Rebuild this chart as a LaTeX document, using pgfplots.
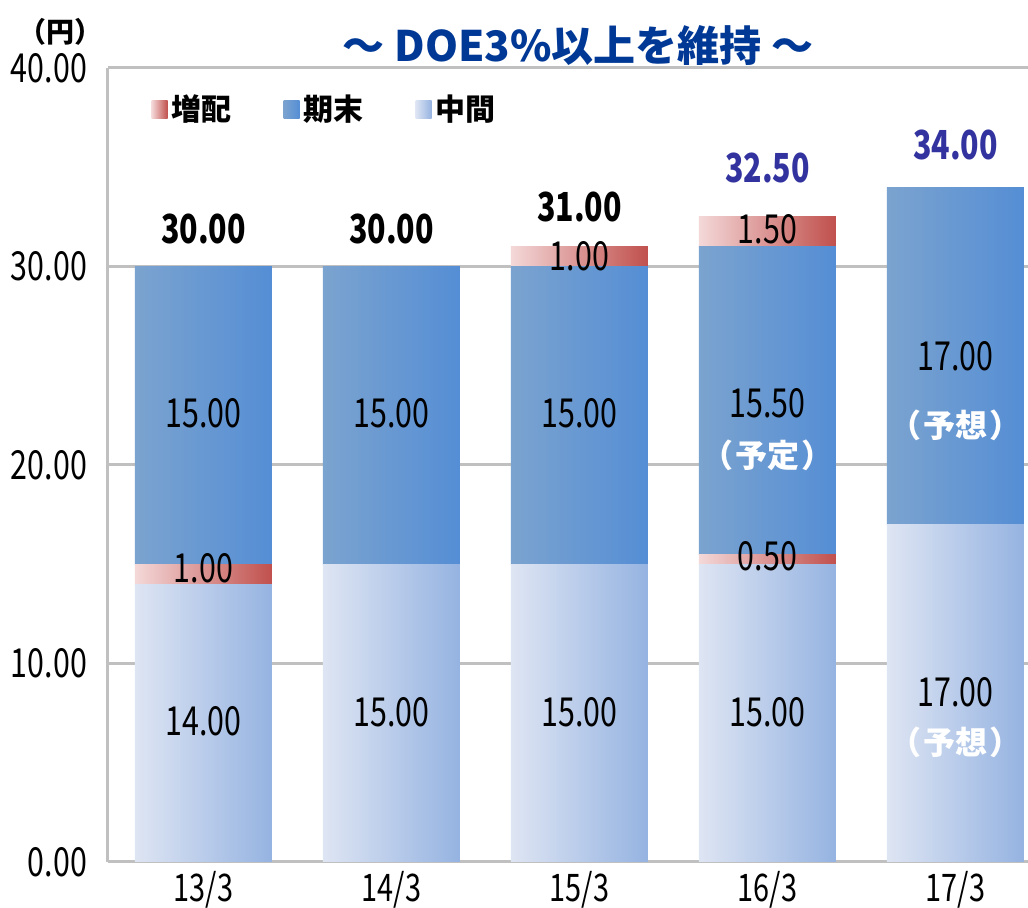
\documentclass[border=0pt]{standalone}
\usepackage{fontspec}
\setmainfont{Noto Sans CJK JP}
\newfontfamily\numfont[FakeStretch=0.76]{Noto Sans CJK JP}
\usepackage{pgfplots}
\pgfplotsset{compat=1.18}
\definecolor{kL}{RGB}{123,163,207}
\definecolor{kR}{RGB}{85,142,213}
\definecolor{cL}{RGB}{222,229,243}
\definecolor{cR}{RGB}{149,179,225}
\definecolor{zL}{RGB}{244,216,216}
\definecolor{zR}{RGB}{192,80,77}
\definecolor{gridc}{RGB}{192,192,192}
\definecolor{titleblue}{RGB}{0,56,150}
\definecolor{totblue}{RGB}{51,51,160}
\pgfplotsset{
  segment/.style 2 args={draw=none, fill=none,
    nodes near coords={},
    visualization depends on={rawy \as \rawy},
    every node near coord/.style={anchor=center, inner sep=0pt, outer sep=0pt,
      minimum width=68.5pt, minimum height=\rawy*9.925pt,
      shade, left color=#1, right color=#2}},
}
\tikzset{lab/.style={font=\numfont\fontsize{20}{22}\selectfont, text=black, inner sep=0pt},
  note/.style={font=\bfseries\fontsize{16}{19}\selectfont, text=white, inner sep=0pt},
  tot/.style={font=\numfont\bfseries\fontsize{20}{22}\selectfont, inner sep=0pt}}
\begin{document}
\begin{tikzpicture}
\path[use as bounding box] (-54pt,-23pt) rectangle (460pt,431pt);
\begin{axis}[
  at={(0,0)}, anchor=south west,
  scale only axis, width=460pt, height=397pt,
  xmin=-0.508, xmax=4.386, ymin=0, ymax=40,
  ybar stacked, bar width=0.729,
  xtick={0,1,2,3,4}, xticklabels={13/3,14/3,15/3,16/3,17/3},
  ytick={0,10,20,30,40},
  ymajorgrids, grid style={gridc, line width=1.5pt},
  axis x line*=bottom, axis y line*=left,
  axis line style={gridc, line width=1.5pt, -},
  tick style={draw=none},
  yticklabel style={font=\numfont\fontsize{20}{22}\selectfont, xshift=-7pt},
  xticklabel style={font=\numfont\fontsize{19}{21}\selectfont, yshift=-1pt},
  yticklabel={\pgfmathprintnumber[fixed, fixed zerofill, precision=2]{\tick}},
  /pgf/number format/assume math mode=true,
  clip=false,
  legend style={draw=none, fill=none, at={(axis cs:-0.31,37.93)}, anchor=west,
    legend columns=3, font=\bfseries\fontsize{15}{18}\selectfont,
    /tikz/every even column/.append style={column sep=24pt}},
  legend image code/.code={\path[#1, draw=none] (0pt,-4.5pt) rectangle (8pt,4.5pt);},
]
\addlegendimage{left color=zL, right color=zR}
\addlegendentry{増配}
\addlegendimage{left color=kL, right color=kR}
\addlegendentry{期末}
\addlegendimage{left color=cL, right color=cR}
\addlegendentry{中間}
% 中間
\addplot[segment={cL}{cR}] coordinates {(0,14) (1,15) (2,15) (3,15) (4,17)};
% 増配 (下)
\addplot[segment={zL}{zR}] coordinates {(0,1) (1,0) (2,0) (3,0.5) (4,0)};
% 期末
\addplot[segment={kL}{kR}] coordinates {(0,15) (1,15) (2,15) (3,15.5) (4,17)};
% 増配 (上)
\addplot[segment={zL}{zR}] coordinates {(0,0) (1,0) (2,1) (3,1.5) (4,0)};

% label anchors
\coordinate (c0) at (axis cs:0,7.1);
\coordinate (c1) at (axis cs:1,7.55);
\coordinate (c2) at (axis cs:2,7.55);
\coordinate (c3) at (axis cs:3,7.55);
\coordinate (c4) at (axis cs:4,8.55);
\coordinate (c4n) at (axis cs:4,6.05);
\coordinate (k0) at (axis cs:0,22.6);
\coordinate (k1) at (axis cs:1,22.6);
\coordinate (k2) at (axis cs:2,22.6);
\coordinate (k3) at (axis cs:3,23.1);
\coordinate (k3n) at (axis cs:3,20.5);
\coordinate (k4) at (axis cs:4,25.5);
\coordinate (k4n) at (axis cs:4,22.0);
\coordinate (z0) at (axis cs:0,14.8);
\coordinate (z2) at (axis cs:2,30.5);
\coordinate (z3a) at (axis cs:3,31.9);
\coordinate (z3b) at (axis cs:3,15.4);
\coordinate (t0) at (axis cs:0,31.9);
\coordinate (t1) at (axis cs:1,31.9);
\coordinate (t2) at (axis cs:2,33.0);
\coordinate (t3) at (axis cs:3,34.95);
\coordinate (t4) at (axis cs:4,36.1);
\coordinate (xl0) at (axis cs:0,0);
\coordinate (xl1) at (axis cs:1,0);
\coordinate (xl2) at (axis cs:2,0);
\coordinate (xl3) at (axis cs:3,0);
\coordinate (xl4) at (axis cs:4,0);
\end{axis}
\node[lab] at (c0) {14.00};
\node[lab] at (c1) {15.00};
\node[lab] at (c2) {15.00};
\node[lab] at (c3) {15.00};
\node[lab] at (c4) {17.00};
\node[note] at (c4n) {（\hspace{1pt}予想\hspace{1pt}）};
\node[lab] at (k0) {15.00};
\node[lab] at (k1) {15.00};
\node[lab] at (k2) {15.00};
\node[lab] at (k3) {15.50};
\node[note] at (k3n) {（\hspace{1pt}予定\hspace{1pt}）};
\node[lab] at (k4) {17.00};
\node[note] at (k4n) {（\hspace{1pt}予想\hspace{1pt}）};
\node[lab] at (z0) {1.00};
\node[lab] at (z2) {1.00};
\node[lab] at (z3a) {1.50};
\node[lab] at (z3b) {0.50};
\node[tot, text=black] at (t0) {30.00};
\node[tot, text=black] at (t1) {30.00};
\node[tot, text=black] at (t2) {31.00};
\node[tot, text=totblue] at (t3) {32.50};
\node[tot, text=totblue] at (t4) {34.00};
\node[font=\bfseries\fontsize{21}{24}\selectfont, text=titleblue, inner sep=0pt] at (235pt,408pt) {～ DOE3\%以上を維持 ～};
\node[font=\bfseries\fontsize{14}{16}\selectfont, inner sep=0pt] at (-23.5pt,415pt) {（円）};
\end{tikzpicture}
\end{document}
